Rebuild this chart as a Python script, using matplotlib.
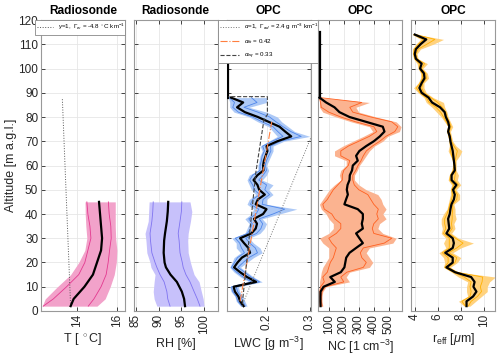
import numpy as np
import matplotlib
matplotlib.use('Agg')
import matplotlib.pyplot as plt

plt.rcParams['font.family'] = ['Liberation Sans', 'DejaVu Sans']
plt.rcParams['mathtext.fontset'] = 'custom'
plt.rcParams['mathtext.rm'] = 'Liberation Sans'
plt.rcParams['mathtext.it'] = 'Liberation Sans:italic'

# ---- radiosonde temperature
t_alt = [2, 5, 10, 15, 20, 25, 30, 35, 40, 45]
t_mean = [13.70, 13.85, 14.38, 14.80, 15.00, 15.20, 15.25, 15.20, 15.15, 15.10]
t_lo_in = [12.35, 12.85, 13.50, 14.10, 14.40, 14.55, 14.70, 14.65, 14.55, 14.50]
t_hi_in = [14.57, 14.85, 15.20, 15.45, 15.55, 15.62, 15.70, 15.68, 15.60, 15.56]
t_lo_out = [12.30, 12.45, 13.05, 13.70, 14.10, 14.40, 14.50, 14.45, 14.42, 14.41]
t_hi_out = [15.00, 15.40, 15.65, 15.85, 15.95, 15.98, 15.92, 15.90, 15.90, 15.90]
t_wet_alt = [2, 88]
t_wet = [13.70, 13.29]

# ---- radiosonde relative humidity
rh_alt = [2, 5, 8, 12, 15, 18, 20, 24, 29, 32, 37, 41, 45]
rh_mean = [95.8, 95.6, 95.1, 94.0, 92.6, 91.6, 91.3, 91.1, 91.2, 91.4, 91.8, 92.0, 92.1]
rh_lo_in = [92.5, 92.0, 91.8, 91.2, 90.3, 89.6, 89.2, 88.5, 88.2, 88.1, 88.5, 88.7, 88.8]
rh_hi_in = [99.1, 98.5, 97.8, 96.9, 96.0, 95.4, 95.2, 94.7, 94.5, 94.3, 94.7, 95.0, 95.1]
rh_lo_out = [89.6, 89.0, 88.8, 89.0, 89.2, 88.3, 88.1, 87.4, 87.2, 87.0, 87.7, 87.8, 87.9]
rh_hi_out = [100.0, 99.8, 99.4, 98.9, 97.8, 97.3, 97.0, 96.5, 96.4, 96.5, 97.0, 97.3, 96.9]

# ---- OPC liquid water content (alt 2..88 step 2)
lwc_alt = list(range(2, 89, 2))
lwc_mean = [0.147, 0.139, 0.135, 0.127, 0.124, 0.176, 0.155, 0.139, 0.125, 0.133, 0.143,
            0.162, 0.158, 0.148, 0.139, 0.165, 0.175, 0.178, 0.171, 0.192, 0.200, 0.175,
            0.180, 0.196, 0.183, 0.179, 0.170, 0.179, 0.193, 0.192, 0.194, 0.198, 0.202,
            0.200, 0.225, 0.257, 0.243, 0.230, 0.205, 0.180, 0.150, 0.132, 0.146, 0.118]
lwc_lo_out = [0.140, 0.130, 0.127, 0.118, 0.115, 0.160, 0.140, 0.125, 0.115, 0.120, 0.125,
              0.140, 0.130, 0.130, 0.120, 0.150, 0.155, 0.160, 0.150, 0.165, 0.170, 0.155,
              0.160, 0.175, 0.165, 0.160, 0.155, 0.160, 0.180, 0.180, 0.183, 0.185, 0.190,
              0.185, 0.205, 0.225, 0.215, 0.205, 0.180, 0.160, 0.125, 0.115, 0.115, 0.112]
lwc_hi_out = [0.155, 0.150, 0.145, 0.138, 0.135, 0.190, 0.170, 0.155, 0.140, 0.155, 0.170,
              0.190, 0.185, 0.170, 0.160, 0.185, 0.195, 0.200, 0.190, 0.230, 0.270, 0.200,
              0.200, 0.215, 0.205, 0.215, 0.190, 0.200, 0.205, 0.200, 0.205, 0.210, 0.215,
              0.215, 0.240, 0.300, 0.265, 0.250, 0.235, 0.225, 0.200, 0.160, 0.200, 0.200]
lwc_lo_in = [0.143, 0.134, 0.130, 0.122, 0.119, 0.166, 0.146, 0.131, 0.119, 0.126, 0.133,
             0.149, 0.142, 0.138, 0.128, 0.156, 0.163, 0.167, 0.159, 0.176, 0.182, 0.163,
             0.168, 0.184, 0.172, 0.168, 0.161, 0.168, 0.185, 0.185, 0.188, 0.190, 0.195,
             0.191, 0.213, 0.238, 0.226, 0.215, 0.190, 0.168, 0.135, 0.122, 0.126, 0.114]
lwc_hi_in = [0.151, 0.145, 0.141, 0.133, 0.130, 0.184, 0.164, 0.149, 0.134, 0.146, 0.159,
             0.179, 0.174, 0.161, 0.152, 0.177, 0.187, 0.191, 0.183, 0.215, 0.242, 0.190,
             0.192, 0.207, 0.196, 0.200, 0.182, 0.192, 0.200, 0.197, 0.200, 0.205, 0.210,
             0.209, 0.232, 0.280, 0.256, 0.238, 0.222, 0.207, 0.180, 0.148, 0.178, 0.165]
lwc_top_alt = [88, 114]
lwc_top = [0.112, 0.112]
lwc_ad_alt = [2, 71.3]
lwc_ad = [0.143, 0.302]
lwc_fit_alt = [4, 78]
lwc_fit = [0.139, 0.212]
lwc_eq_alt = [3, 35.5, 56.8, 78.8, 81, 88.4, 88.4]
lwc_eq = [0.144, 0.163, 0.175, 0.194, 0.202, 0.202, 0.112]

# ---- OPC number concentration (alt 2..88 step 2)
nc_alt = list(range(2, 89, 2))
nc_mean = [45, 44, 44, 45, 65, 140, 110, 180, 204, 210, 216, 238, 282, 327, 304, 282, 327,
           320, 327, 327, 293, 204, 215, 227, 220, 225, 238, 240, 255, 260, 293, 282, 304,
           349, 400, 440, 471, 460, 349, 238, 171, 138, 82, 38]
nc_lo_out = [40, 40, 40, 38, 38, 38, 45, 50, 60, 80, 100, 100, 100, 60, 38, 100, 130, 130,
             100, 82, 50, 38, 60, 82, 104, 138, 180, 171, 180, 216, 216, 138, 138, 193, 260,
             330, 393, 371, 250, 149, 60, 38, 38, 36]
nc_hi_out = [60, 55, 55, 60, 82, 238, 216, 238, 371, 393, 371, 349, 371, 527, 549, 460, 427,
             438, 482, 460, 482, 460, 449, 427, 349, 300, 271, 271, 290, 304, 327, 349, 371,
             404, 460, 493, 571, 582, 549, 416, 300, 280, 371, 45]
nc_lo_in = [42, 42, 42, 40, 45, 70, 60, 90, 100, 110, 130, 140, 150, 120, 100, 150, 180, 180,
            140, 120, 70, 60, 90, 110, 130, 160, 190, 190, 200, 230, 240, 180, 180, 230, 300,
            370, 420, 400, 280, 180, 100, 50, 45, 37]
nc_hi_in = [55, 50, 50, 55, 75, 200, 180, 220, 330, 350, 320, 310, 330, 470, 520, 400, 390,
            400, 430, 420, 430, 400, 380, 360, 300, 270, 260, 260, 280, 295, 315, 330, 350,
            390, 440, 480, 540, 560, 520, 380, 260, 240, 320, 42]
nc_top_alt = [88, 115]
nc_top = [38, 38]

# ---- OPC effective radius (alt 2..114 step 2)
re_alt = list(range(2, 115, 2))
re_mean = [8.5, 8.5, 9.07, 9.36, 9.1, 9.2, 8.9, 7.5, 6.75, 7.3, 7.3, 6.65, 7.3, 7.4, 7.3,
           6.75, 7.0, 6.95, 6.9, 7.04, 7.1, 7.19, 7.4, 7.48, 7.33, 7.62, 7.2, 7.2, 7.48,
           7.45, 7.4, 7.35, 7.3, 7.2, 7.1, 7.04, 6.9, 7.0, 6.9, 6.7, 6.6, 6.2, 5.5, 5.2,
           4.6, 4.4, 4.6, 4.85, 4.8, 4.46, 4.6, 4.1, 4.0, 4.1, 4.5, 5.0, 4.0]
re_lo_out = [8.3, 7.8, 8.6, 8.5, 8.5, 8.6, 7.8, 7.2, 6.5, 6.6, 6.5, 6.1, 6.7, 6.5, 6.7,
             6.3, 6.4, 6.3, 6.3, 6.5, 6.8, 6.9, 7.0, 7.1, 7.1, 7.2, 6.9, 7.0, 7.2,
             7.3, 7.3, 7.1, 6.9, 7.0, 7.0, 6.9, 6.8, 6.9, 6.6, 6.3, 5.9, 5.5, 5.0, 4.8,
             4.3, 3.9, 4.3, 4.5, 4.5, 4.3, 4.2, 3.9, 3.8, 3.8, 4.1, 4.5, 3.8]
re_hi_out = [8.8, 9.3, 9.8, 10.3, 10.3, 10.5, 11.0, 7.8, 7.1, 7.7, 8.0, 7.3, 8.0, 9.1, 7.8,
             7.2, 7.5, 7.4, 7.6, 7.5, 7.5, 7.4, 7.9, 7.9, 7.6, 8.0, 7.7, 7.8, 7.6,
             7.6, 7.6, 7.9, 8.1, 7.6, 7.3, 7.2, 7.1, 7.3, 7.1, 6.9, 6.8, 6.6, 6.5, 5.6,
             5.0, 4.8, 4.8, 5.2, 5.1, 4.7, 5.1, 4.3, 4.2, 4.5, 5.6, 6.5, 4.2]
re_lo_in = [8.4, 8.1, 8.8, 8.9, 8.8, 8.9, 8.3, 7.35, 6.6, 6.9, 6.9, 6.4, 7.0, 7.0, 7.0,
            6.5, 6.7, 6.6, 6.6, 6.8, 6.95, 7.05, 7.2, 7.3, 7.2, 7.4, 7.05, 7.1, 7.35,
            7.38, 7.35, 7.22, 7.1, 7.1, 7.05, 6.97, 6.85, 6.95, 6.75, 6.5, 6.25, 5.85, 5.25, 5.0,
            4.45, 4.15, 4.45, 4.68, 4.65, 4.38, 4.4, 4.0, 3.9, 3.95, 4.3, 4.75, 3.9]
re_hi_in = [8.65, 8.9, 9.45, 9.8, 9.7, 9.85, 9.9, 7.65, 6.9, 7.5, 7.65, 6.95, 7.65, 8.2, 7.55,
            6.95, 7.25, 7.2, 7.25, 7.25, 7.3, 7.3, 7.65, 7.7, 7.45, 7.8, 7.45, 7.5, 7.55,
            7.52, 7.5, 7.6, 7.7, 7.4, 7.2, 7.12, 7.0, 7.15, 7.0, 6.8, 6.7, 6.4, 6.0, 5.4,
            4.8, 4.6, 4.7, 5.02, 4.95, 4.58, 4.85, 4.2, 4.1, 4.3, 5.05, 5.75, 4.1]


def profile(ax, alt, mean, lo_in, hi_in, lo_out, hi_out, fill, line):
    ax.fill_betweenx(alt, lo_out, hi_out, color=fill, lw=0, zorder=2)
    ax.plot(lo_in, alt, color=line, lw=0.6, zorder=3)
    ax.plot(hi_in, alt, color=line, lw=0.6, zorder=3)
    ax.plot(mean, alt, color='k', lw=1.6, zorder=4)


fig = plt.figure(figsize=(5, 3.58), dpi=100)
lefts = [0.082, 0.2674, 0.4534, 0.6366, 0.8226]
axs = [fig.add_axes([l, 0.1313, 0.168, 0.8128]) for l in lefts]

profile(axs[0], t_alt, t_mean, t_lo_in, t_hi_in, t_lo_out, t_hi_out, '#f2a2ca', '#e3398f')
axs[0].plot(t_wet, t_wet_alt, ':', color='#555555', lw=0.7,
            label=r'$\gamma$=1,  $\Gamma_w$ = -4.8 $^\circ$C km$^{-1}$')
profile(axs[1], rh_alt, rh_mean, rh_lo_in, rh_hi_in, rh_lo_out, rh_hi_out, '#c7c1fb', '#7f73f0')
profile(axs[2], lwc_alt, lwc_mean, lwc_lo_in, lwc_hi_in, lwc_lo_out, lwc_hi_out, '#adc9f6', '#4f86ea')
axs[2].plot(lwc_top, lwc_top_alt, color='k', lw=1.6, zorder=4)
axs[2].plot(lwc_ad, lwc_ad_alt, ':', color='#777777', lw=0.7, zorder=5,
            label=r'$\alpha$=1,  $\Gamma_{ad}$ = 2.4 g m$^{-3}$ km$^{-1}$')
axs[2].plot(lwc_fit, lwc_fit_alt, '-.', color='#ff7f3f', lw=0.8, zorder=5,
            label=r'$\alpha_{fit}$ = 0.42')
axs[2].plot(lwc_eq, lwc_eq_alt, '--', color='#444444', lw=0.8, zorder=5,
            label=r'$\alpha_{eq}$ = 0.33')
profile(axs[3], nc_alt, nc_mean, nc_lo_in, nc_hi_in, nc_lo_out, nc_hi_out, '#fbb390', '#ff6020')
axs[3].plot(nc_top, nc_top_alt, color='k', lw=1.6, zorder=4)
profile(axs[4], re_alt, re_mean, re_lo_in, re_hi_in, re_lo_out, re_hi_out, '#ffd27e', '#ffb000')

titles = ['Radiosonde', 'Radiosonde', 'OPC', 'OPC', 'OPC']
xlabels = [r'T [ $^\circ$C]', 'RH [%]', r'LWC [g m$^{-3}$]', r'NC [1 cm$^{-3}$]', r'r$_{\rm eff}$ [$\mu$m]']
xlims = [(12.24, 16.38), (84.5, 103), (0.108, 0.302), (30, 590), (3.7, 11.0)]
xticks = [[14, 16], [85, 90, 95, 100], [0.2, 0.3], [100, 200, 300, 400, 500], [4, 6, 8, 10]]
xticklabels = [['14', '16'], ['85', '90', '95', '100'], ['0.2', '0.3'],
               ['100', '200', '300', '400', '500'], ['4', '6', '8', '10']]

for i, ax in enumerate(axs):
    ax.set_xlim(xlims[i])
    ax.set_ylim(0, 120)
    ax.set_xticks(xticks[i])
    ax.set_xticklabels(xticklabels[i])
    ax.set_yticks(range(0, 121, 10))
    ax.set_title(titles[i], fontsize=8.6, fontweight='bold', pad=4)
    ax.set_xlabel(xlabels[i], fontsize=9, color='#262626', labelpad=3)
    ax.grid(True, color='#e6e6e6', lw=0.6)
    ax.set_axisbelow(True)
    ax.tick_params(direction='in', length=3, width=0.6, top=True, right=True,
                   labelsize=8.5, colors='#262626', pad=2)
    ax.tick_params(axis='x', labelrotation=90)
    for s in ax.spines.values():
        s.set_color('#999999')
        s.set_linewidth(0.8)
    if i > 0:
        ax.set_yticklabels([])

axs[0].set_ylabel('Altitude [m a.g.l.]', fontsize=9, color='#262626')
axs[0].yaxis.set_label_coords(-0.29, 0.5)

leg1 = axs[0].legend(loc='upper left', bbox_to_anchor=(0.07, 0.9106, 0.18, 0.0335),
                     bbox_transform=fig.transFigure, mode='expand', borderaxespad=0,
                     fontsize=4.5, handlelength=2.6, fancybox=False, framealpha=1,
                     edgecolor='#888888', borderpad=0.35)
leg1.get_frame().set_linewidth(0.6)
leg3 = axs[2].legend(loc='upper left', bbox_to_anchor=(0.436, 0.8575, 0.2, 0.0866),
                     bbox_transform=fig.transFigure, mode='expand', borderaxespad=0,
                     fontsize=4.5, handlelength=3.0, fancybox=False, framealpha=1,
                     edgecolor='#888888', borderpad=0.3, labelspacing=0.8)
leg3.get_frame().set_linewidth(0.6)
leg3.set_zorder(10)

fig.savefig('out.png', dpi=100)
